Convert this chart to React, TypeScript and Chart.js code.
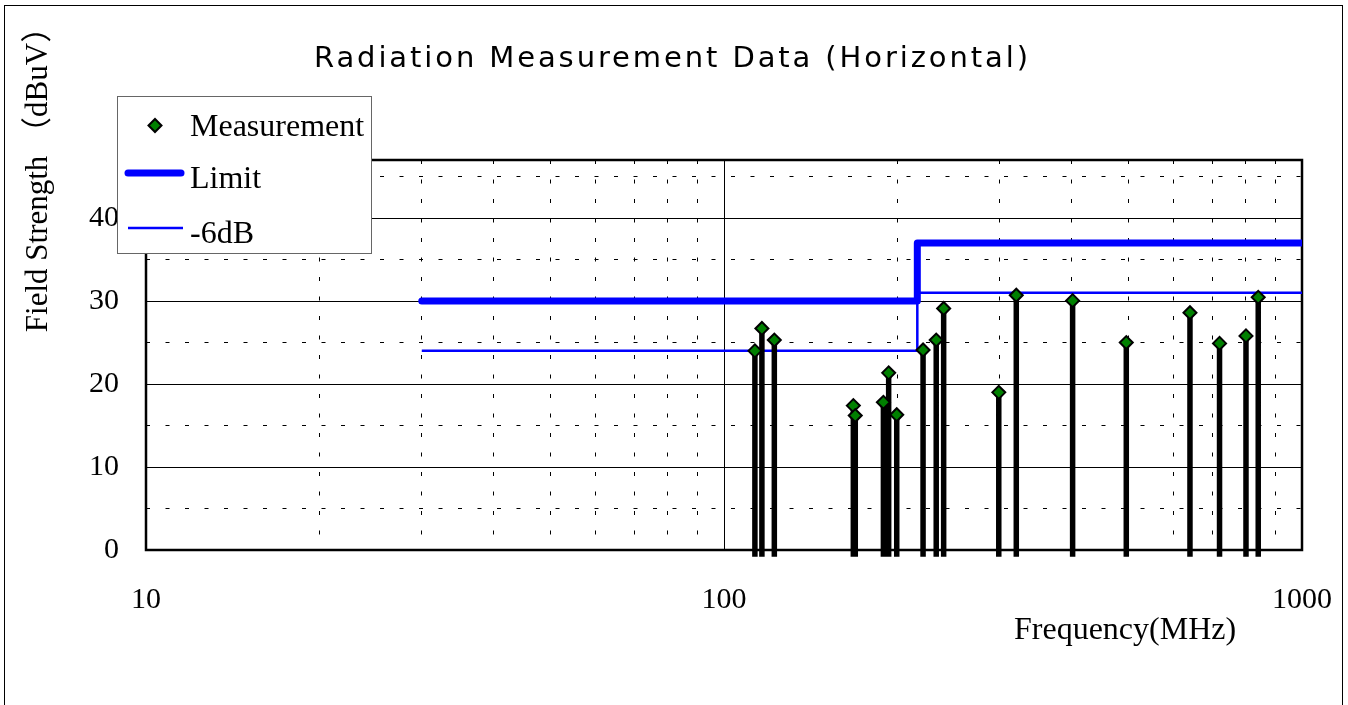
import React, { useEffect, useRef } from 'react';
import { Chart, registerables } from 'chart.js';

Chart.register(...registerables);

const TITLE = 'Radiation Measurement Data (Horizontal)';
const X_TITLE = 'Frequency(MHz)';
const Y_TITLE = 'Field Strength （dBuV）';
const LEGEND_LABELS = ['Measurement', 'Limit', '-6dB'];

const FREQS = [113.1, 116.3, 122.2, 167.4, 168.7, 188.7, 192.7, 199.0, 221.0, 232.9, 239.9, 298.8, 320.4, 401.0, 496.6, 640.0, 720.0, 800.0, 840.0];
const LEVELS = [24.0, 26.7, 25.3, 17.4, 16.2, 17.8, 21.35, 16.3, 24.1, 25.3, 29.1, 19.0, 30.7, 30.05, 25.0, 28.6, 24.9, 25.8, 30.45];

const LIMIT_FREQS = [30, 216, 216, 1000];
const LIMIT_LEVELS = [30, 30, 37, 37];
const MARGIN_LEVELS = [24, 24, 31, 31];

const X_TICKS = [10, 20, 30, 40, 50, 60, 70, 80, 90, 100, 200, 300, 400, 500, 600, 700, 800, 900, 1000];
const X_LABELS = [10, 100, 1000];
const Y_TICKS = [0, 5, 10, 15, 20, 25, 30, 35, 40, 45];
const Y_LABELS = [0, 10, 20, 30, 40];
const STEM_BASE = -0.8;

const SERIF = '"Liberation Serif", "Noto Sans CJK SC", serif';
const SANS = '"DejaVu Sans", "Liberation Sans", sans-serif';
const BLUE = '#0000ff';
const GREEN = '#008000';

function drawDiamond(ctx: CanvasRenderingContext2D, x: number, y: number, r: number) {
  ctx.beginPath();
  ctx.moveTo(x - r, y);
  ctx.lineTo(x, y - r);
  ctx.lineTo(x + r, y);
  ctx.lineTo(x, y + r);
  ctx.closePath();
  ctx.fillStyle = GREEN;
  ctx.fill();
  ctx.lineWidth = 2;
  ctx.strokeStyle = '#000';
  ctx.stroke();
}

const decorPlugin = {
  id: 'decor',
  beforeDraw(chart: any) {
    const ctx = chart.ctx as CanvasRenderingContext2D;
    ctx.save();
    ctx.fillStyle = '#fff';
    ctx.fillRect(0, 0, chart.width, chart.height);
    ctx.strokeStyle = '#000';
    ctx.lineWidth = 1;
    ctx.strokeRect(4.5, 5.5, 1338, 720);
    // title
    ctx.fillStyle = '#000';
    ctx.font = '29px ' + SANS;
    try { (ctx as any).letterSpacing = '2.9px'; } catch (e) {}
    ctx.textAlign = 'left';
    ctx.textBaseline = 'alphabetic';
    ctx.fillText(TITLE, 314, 67);
    try { (ctx as any).letterSpacing = '0px'; } catch (e) {}
    // x title
    ctx.font = '32px ' + SERIF;
    ctx.fillText(X_TITLE, 1014, 639);
    // y title
    ctx.save();
    ctx.translate(47, 172);
    ctx.rotate(-Math.PI / 2);
    ctx.textAlign = 'center';
    ctx.font = '31px ' + SERIF;
    ctx.fillText(Y_TITLE, 0, 0);
    ctx.restore();
    ctx.restore();
  },
  beforeDatasetsDraw(chart: any) {
    const ctx = chart.ctx as CanvasRenderingContext2D;
    const a = chart.chartArea;
    ctx.save();
    ctx.strokeStyle = '#000';
    ctx.lineWidth = 2.5;
    ctx.strokeRect(a.left, a.top, a.right - a.left, a.bottom - a.top);
    ctx.restore();
  },
  afterDraw(chart: any) {
    const ctx = chart.ctx as CanvasRenderingContext2D;
    ctx.save();
    // legend box
    ctx.fillStyle = '#fff';
    ctx.fillRect(117.5, 96.5, 254, 157);
    ctx.strokeStyle = '#666';
    ctx.lineWidth = 1;
    ctx.strokeRect(117.5, 96.5, 254, 157);
    // items
    drawDiamond(ctx, 155, 125.5, 6.5);
    ctx.lineCap = 'round';
    ctx.strokeStyle = BLUE;
    ctx.lineWidth = 7;
    ctx.beginPath();
    ctx.moveTo(128, 173);
    ctx.lineTo(181, 173);
    ctx.stroke();
    ctx.lineCap = 'butt';
    ctx.lineWidth = 2.5;
    ctx.beginPath();
    ctx.moveTo(128, 228);
    ctx.lineTo(183, 228);
    ctx.stroke();
    ctx.fillStyle = '#000';
    ctx.font = '32px ' + SERIF;
    ctx.textAlign = 'left';
    ctx.textBaseline = 'alphabetic';
    ctx.fillText(LEGEND_LABELS[0], 190, 136);
    ctx.fillText(LEGEND_LABELS[1], 190, 188);
    ctx.fillText(LEGEND_LABELS[2], 190, 243);
    ctx.restore();
  },
};

export default function App() {
  const ref = useRef<HTMLCanvasElement | null>(null);

  useEffect(() => {
    document.body.style.margin = '0';
    const canvas = ref.current;
    if (!canvas) return;

    const markerData = FREQS.map((f, i) => ({ x: f, y: LEVELS[i] }));
    const stemData: any[] = [];
    FREQS.forEach((f, i) => {
      stemData.push({ x: f, y: STEM_BASE });
      stemData.push({ x: f, y: LEVELS[i] });
      stemData.push({ x: f, y: null });
    });
    const limitData = LIMIT_FREQS.map((f, i) => ({ x: f, y: LIMIT_LEVELS[i] }));
    const marginData = LIMIT_FREQS.map((f, i) => ({ x: f, y: MARGIN_LEVELS[i] }));

    const chart = new Chart(canvas, {
      type: 'line',
      data: {
        datasets: [
          {
            label: LEGEND_LABELS[0],
            data: markerData,
            showLine: false,
            pointStyle: 'rectRot',
            pointRadius: 6.5,
            pointBackgroundColor: GREEN,
            pointBorderColor: '#000',
            pointBorderWidth: 2,
            order: 0,
            clip: false,
          } as any,
          {
            label: 'stems',
            data: stemData,
            borderColor: '#000',
            borderWidth: 5.5,
            pointRadius: 0,
            spanGaps: false,
            borderCapStyle: 'butt',
            order: 1,
            clip: false,
          } as any,
          {
            label: LEGEND_LABELS[2],
            data: marginData,
            borderColor: BLUE,
            borderWidth: 2.5,
            pointRadius: 0,
            tension: 0,
            order: 2,
          } as any,
          {
            label: LEGEND_LABELS[1],
            data: limitData,
            borderColor: BLUE,
            borderWidth: 7,
            pointRadius: 0,
            tension: 0,
            borderCapStyle: 'round',
            borderJoinStyle: 'round',
            order: 3,
          } as any,
        ],
      },
      options: {
        animation: false,
        responsive: false,
        maintainAspectRatio: false,
        events: [],
        layout: { padding: { top: 160, left: 0, right: 46, bottom: 0 } },
        plugins: {
          legend: { display: false },
          tooltip: { enabled: false },
          title: { display: false },
        },
        scales: {
          x: {
            type: 'logarithmic',
            min: 10,
            max: 1000,
            afterBuildTicks: (scale: any) => {
              scale.ticks = X_TICKS.map((v) => ({ value: v }));
            },
            afterFit: (scale: any) => {
              scale.height = 155;
              scale.paddingLeft = 0;
              scale.paddingRight = 0;
            },
            ticks: {
              autoSkip: false,
              maxRotation: 0,
              padding: 32,
              color: '#000',
              font: { family: SERIF, size: 30 },
              callback: (v: any) => (X_LABELS.includes(Number(v)) ? String(v) : ''),
            },
            grid: {
              drawTicks: false,
              color: '#000',
              lineWidth: 1,
            },
            border: {
              display: false,
              dash: (ctx: any) =>
                ctx.type === 'tick' && ctx.tick && !X_LABELS.includes(ctx.tick.value) ? [4, 15.5] : [],
            },
          } as any,
          y: {
            type: 'linear',
            min: 0,
            max: 47,
            afterBuildTicks: (scale: any) => {
              scale.ticks = Y_TICKS.map((v) => ({ value: v }));
            },
            afterFit: (scale: any) => {
              scale.width = 146;
              scale.paddingTop = 0;
              scale.paddingBottom = 0;
            },
            ticks: {
              autoSkip: false,
              padding: 27,
              color: '#000',
              font: { family: SERIF, size: 30 },
              callback: (v: any) => (Y_LABELS.includes(Number(v)) ? String(v) : ''),
            },
            grid: {
              drawTicks: false,
              color: '#000',
              lineWidth: 1,
            },
            border: {
              display: false,
              dash: (ctx: any) =>
                ctx.type === 'tick' && ctx.tick && !Y_LABELS.includes(ctx.tick.value) ? [4, 15.5] : [],
            },
          } as any,
        },
      } as any,
      plugins: [decorPlugin],
    });

    return () => chart.destroy();
  }, []);

  return (
    <div style={{ width: 1348, height: 705, position: 'relative', background: '#fff' }}>
      <canvas ref={ref} width={1348} height={705} style={{ display: 'block' }} />
    </div>
  );
}
